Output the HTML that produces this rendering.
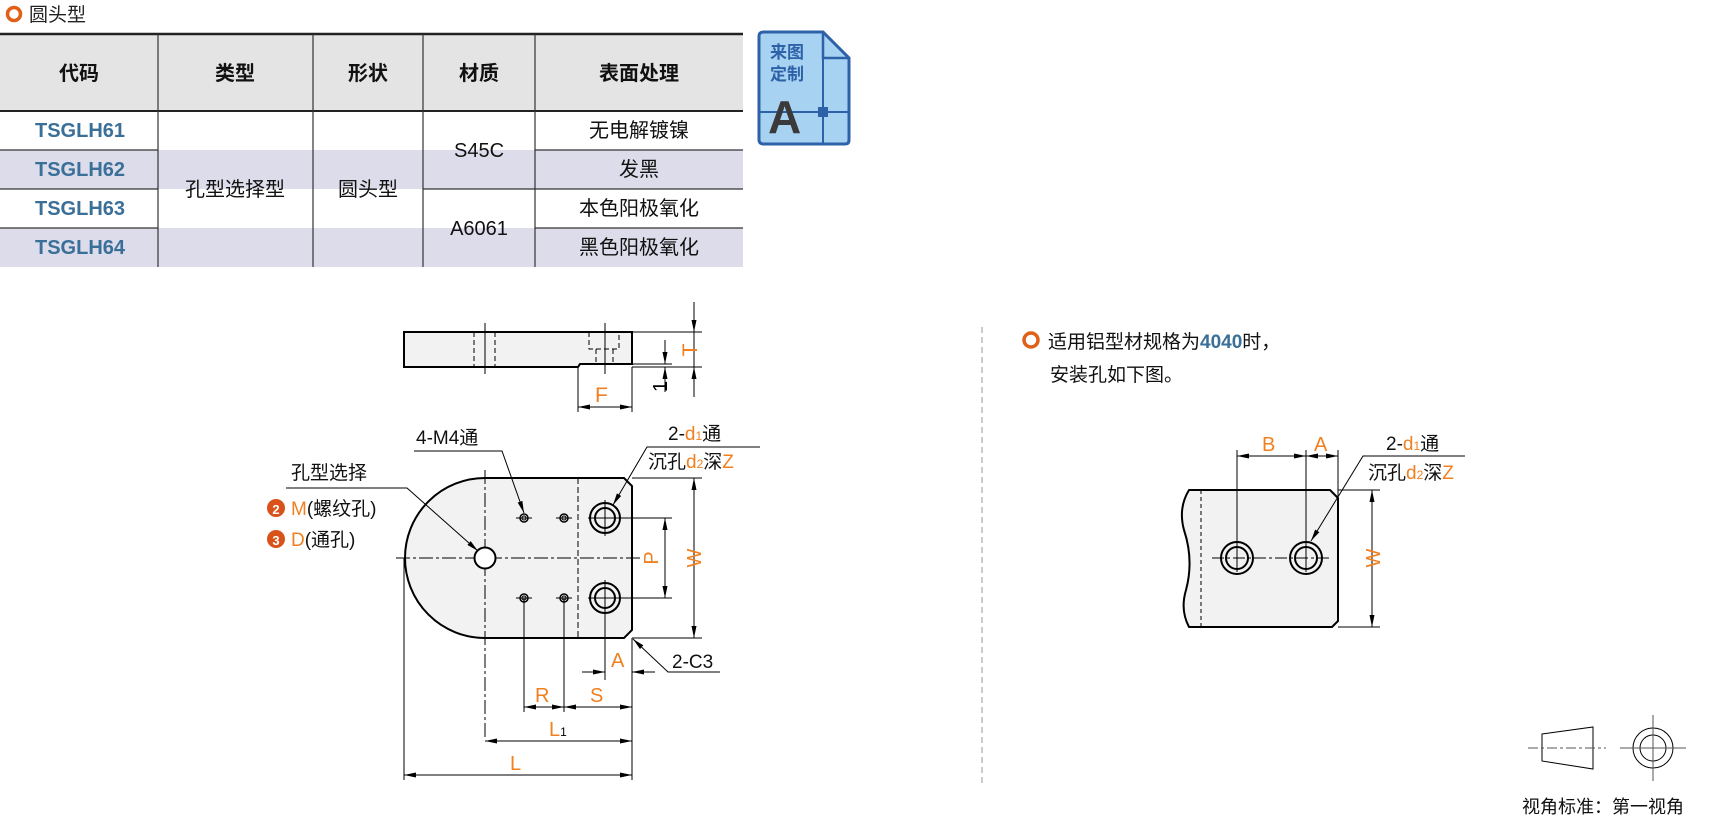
<!DOCTYPE html>
<html><head><meta charset="utf-8"><style>
body{margin:0;width:1711px;height:818px;background:#fff;position:relative;overflow:hidden;font-family:"Liberation Sans","Noto Sans CJK SC",sans-serif;}
</style></head><body>
<svg width="1711" height="818" style="position:absolute;left:0;top:0" font-family="Liberation Sans, Noto Sans CJK SC, sans-serif">
<defs>
<marker id="ar" markerWidth="12" markerHeight="6" refX="12" refY="3" orient="auto" markerUnits="userSpaceOnUse"><path d="M0,0.5 L12,3 L0,5.5z" fill="#000"/></marker>
</defs>
<circle cx="14" cy="14" r="6.5" fill="none" stroke="#e0601a" stroke-width="3.5"/>
<text x="29" y="21" font-size="19" fill="#222">圆头型</text>
<rect x="0" y="33" width="743" height="78" fill="#e4e4e4"/>
<rect x="0" y="150" width="743" height="39" fill="#dcdcea"/>
<rect x="0" y="228" width="743" height="39" fill="#dcdcea"/>
<line x1="0" y1="34" x2="743" y2="34" stroke="#222" stroke-width="2.5"/>
<line x1="0" y1="111" x2="743" y2="111" stroke="#222" stroke-width="2"/>
<g stroke="#333" stroke-width="1.2">
<line x1="0" y1="150" x2="158" y2="150"/><line x1="535" y1="150" x2="743" y2="150"/>
<line x1="0" y1="189" x2="158" y2="189"/><line x1="423" y1="189" x2="743" y2="189"/>
<line x1="0" y1="228" x2="158" y2="228"/><line x1="535" y1="228" x2="743" y2="228"/>
<line x1="158" y1="34" x2="158" y2="267"/><line x1="313" y1="34" x2="313" y2="267"/>
<line x1="423" y1="34" x2="423" y2="267"/><line x1="535" y1="34" x2="535" y2="267"/>
</g>
<g font-size="20" font-weight="bold" fill="#111" text-anchor="middle">
<text x="79" y="80">代码</text><text x="235" y="80">类型</text><text x="368" y="80">形状</text><text x="479" y="80">材质</text><text x="639" y="80">表面处理</text>
</g>
<g font-size="20" font-weight="bold" fill="#3a6f98" text-anchor="middle">
<text x="80" y="137">TSGLH61</text><text x="80" y="176">TSGLH62</text><text x="80" y="215">TSGLH63</text><text x="80" y="254">TSGLH64</text>
</g>
<g font-size="20" fill="#111" text-anchor="middle">
<text x="235" y="196">孔型选择型</text><text x="368" y="196">圆头型</text>
<text x="479" y="157">S45C</text><text x="479" y="235">A6061</text>
<text x="639" y="137">无电解镀镍</text><text x="639" y="176">发黑</text><text x="639" y="215">本色阳极氧化</text><text x="639" y="254">黑色阳极氧化</text>
</g>
<path d="M764,32 H823 L849,58 V140 Q849,144 845,144 H764 Q759,144 759,140 V36 Q759,32 764,32z" fill="#a8d2f2" stroke="#2d62a8" stroke-width="3"/>
<path d="M823,32 V58 H849" fill="none" stroke="#2d62a8" stroke-width="2.5"/>
<line x1="823" y1="58" x2="823" y2="144" stroke="#2d62a8" stroke-width="2"/>
<line x1="759" y1="112" x2="849" y2="112" stroke="#2d62a8" stroke-width="2"/>
<rect x="818" y="107" width="10" height="10" fill="#2d62a8"/>
<text x="770" y="58" font-size="17" font-weight="bold" fill="#2d62a8">来图</text>
<text x="770" y="80" font-size="17" font-weight="bold" fill="#2d62a8">定制</text>
<text x="768" y="133" font-size="46" font-weight="bold" fill="#3a3a3a">A</text>

<g stroke="#000" fill="none">
<path d="M404,332 H632 V364 H580 L578,367 H404z" fill="#f2f2f2" stroke-width="2"/>
<g stroke-width="1" stroke-dasharray="5,3"><line x1="474" y1="332" x2="474" y2="367"/><line x1="495" y1="332" x2="495" y2="367"/>
<path d="M589,332 V349 H619 V332"/><line x1="596" y1="349" x2="596" y2="364"/><line x1="613" y1="349" x2="613" y2="364"/></g>
<g stroke-width="1"><line x1="485" y1="323" x2="485" y2="374"/><line x1="605" y1="323" x2="605" y2="374"/>
<line x1="632" y1="332" x2="702" y2="332"/><line x1="632" y1="364" x2="672" y2="364"/><line x1="632" y1="367" x2="702" y2="367"/>
<line x1="578" y1="367" x2="578" y2="412"/><line x1="632" y1="367" x2="632" y2="412"/>
<line x1="605" y1="407" x2="578" y2="407" marker-end="url(#ar)"/><line x1="605" y1="407" x2="632" y2="407" marker-end="url(#ar)"/>
<line x1="694" y1="302" x2="694" y2="332" marker-end="url(#ar)"/><line x1="694" y1="397" x2="694" y2="367" marker-end="url(#ar)"/><line x1="694" y1="332" x2="694" y2="367"/>
<line x1="665" y1="340" x2="665" y2="364" marker-end="url(#ar)"/><line x1="665" y1="392" x2="665" y2="367" marker-end="url(#ar)"/>
</g></g>
<text x="595" y="402" font-size="21" fill="#f08020">F</text>
<text transform="translate(697,350) rotate(-90)" font-size="21" fill="#f08020" text-anchor="middle">T</text>
<text transform="translate(667,392) rotate(-90)" font-size="20" fill="#000">1</text>

<g stroke="#000" fill="none">
<path d="M485,478 H624 L632,486 V630 L624,638 H485 A80,80 0 0 1 485,478z" fill="#f2f2f2" stroke-width="2"/>
<line x1="578" y1="478" x2="578" y2="638" stroke-width="1" stroke-dasharray="6,3"/>
<g stroke-width="1" stroke-dasharray="14,3,3,3"><line x1="396" y1="558" x2="640" y2="558"/></g>
<line x1="485" y1="470" x2="485" y2="740" stroke-width="1" stroke-dasharray="14,3,3,3"/>
<circle cx="485" cy="558" r="10.5" fill="#fff" stroke-width="2"/>
<g stroke-width="1.5"><circle cx="524" cy="518" r="4"/><circle cx="564" cy="518" r="4"/><circle cx="524" cy="598" r="4"/><circle cx="564" cy="598" r="4"/></g>
<g stroke-width="1"><circle cx="524" cy="518" r="2"/><circle cx="564" cy="518" r="2"/><circle cx="524" cy="598" r="2"/><circle cx="564" cy="598" r="2"/>
<line x1="516" y1="518" x2="532" y2="518"/><line x1="556" y1="518" x2="572" y2="518"/><line x1="516" y1="598" x2="532" y2="598"/><line x1="556" y1="598" x2="572" y2="598"/>
<line x1="524" y1="598" x2="524" y2="712"/><line x1="564" y1="598" x2="564" y2="712"/></g>
<g stroke-width="2"><circle cx="605" cy="518" r="15"/><circle cx="605" cy="518" r="10"/><circle cx="605" cy="598" r="15"/><circle cx="605" cy="598" r="10"/></g>
<g stroke-width="1"><line x1="588" y1="518" x2="672" y2="518"/><line x1="605" y1="500" x2="605" y2="536"/>
<line x1="588" y1="598" x2="672" y2="598"/><line x1="605" y1="580" x2="605" y2="680"/>
<line x1="632" y1="478" x2="702" y2="478"/><line x1="632" y1="638" x2="702" y2="638"/>
<line x1="665" y1="538" x2="665" y2="518" marker-end="url(#ar)"/><line x1="665" y1="578" x2="665" y2="598" marker-end="url(#ar)"/><line x1="665" y1="518" x2="665" y2="598"/>
<line x1="694" y1="558" x2="694" y2="478" marker-end="url(#ar)"/><line x1="694" y1="558" x2="694" y2="638" marker-end="url(#ar)"/>
<line x1="632" y1="638" x2="632" y2="780"/><line x1="404" y1="558" x2="404" y2="780"/>
<line x1="582" y1="672" x2="605" y2="672" marker-end="url(#ar)"/><line x1="655" y1="672" x2="632" y2="672" marker-end="url(#ar)"/>
<line x1="544" y1="707" x2="524" y2="707" marker-end="url(#ar)"/><line x1="544" y1="707" x2="564" y2="707" marker-end="url(#ar)"/>
<line x1="598" y1="707" x2="564" y2="707" marker-end="url(#ar)"/><line x1="598" y1="707" x2="632" y2="707" marker-end="url(#ar)"/>
<line x1="558" y1="741" x2="485" y2="741" marker-end="url(#ar)"/><line x1="558" y1="741" x2="632" y2="741" marker-end="url(#ar)"/>
<line x1="518" y1="775" x2="404" y2="775" marker-end="url(#ar)"/><line x1="518" y1="775" x2="632" y2="775" marker-end="url(#ar)"/>
<polyline points="414,451 502,451 524,513" marker-end="url(#ar)" fill="none"/>
<polyline points="286,488 407,488 478,551" marker-end="url(#ar)" fill="none"/>
<polyline points="760,447 647,447 613,505" marker-end="url(#ar)" fill="none"/>
<polyline points="720,672 668,672 633,639" marker-end="url(#ar)" fill="none"/>
</g></g>
<g font-size="20" fill="#f08020">
<text transform="translate(658,558) rotate(-90)" text-anchor="middle">P</text>
<text transform="translate(701,558) rotate(-90)" text-anchor="middle">W</text>
<text x="611" y="667">A</text><text x="535" y="702">R</text><text x="590" y="702">S</text>
</g>
<text x="549" y="736" font-size="20" fill="#f08020">L<tspan font-size="12" fill="#000">1</tspan></text>
<text x="510" y="770" font-size="20" fill="#f08020">L</text>
<g font-size="19" fill="#111">
<text x="416" y="444">4-M4通</text>
<text x="668" y="440">2-<tspan fill="#f08020">d</tspan><tspan font-size="12" fill="#f08020">1</tspan>通</text>
<text x="648" y="468">沉孔<tspan fill="#f08020">d</tspan><tspan font-size="12" fill="#f08020">2</tspan>深<tspan fill="#f08020">Z</tspan></text>
<text x="672" y="668">2-C3</text>
<text x="291" y="479">孔型选择</text>
<text x="291" y="515"><tspan fill="#f08020">M</tspan>(螺纹孔)</text>
<text x="291" y="546"><tspan fill="#f08020">D</tspan>(通孔)</text>
</g>
<circle cx="276" cy="508" r="9" fill="#d8521a"/><text x="276" y="514" font-size="13" font-weight="bold" fill="#fff" text-anchor="middle">2</text>
<circle cx="276" cy="539" r="9" fill="#d8521a"/><text x="276" y="545" font-size="13" font-weight="bold" fill="#fff" text-anchor="middle">3</text>

<line x1="982" y1="327" x2="982" y2="783" stroke="#999" stroke-width="1" stroke-dasharray="6,4"/>

<circle cx="1031" cy="340" r="7" fill="none" stroke="#e0601a" stroke-width="3.5"/>
<text x="1048" y="348" font-size="19" fill="#111">适用铝型材规格为<tspan fill="#3a6f98" font-weight="bold">4040</tspan>时，</text>
<text x="1050" y="381" font-size="19" fill="#111">安装孔如下图。</text>
<g stroke="#000" fill="none">
<path d="M1189,490 H1330 L1338,498 V621 L1332,627 H1189 Q1180,610 1186,590 Q1194,560 1184,530 Q1178,508 1189,490z" fill="#f2f2f2" stroke-width="2" stroke-linejoin="round"/>
<line x1="1201" y1="490" x2="1201" y2="627" stroke-width="1" stroke-dasharray="4,3"/>
<line x1="1212" y1="558" x2="1330" y2="558" stroke-width="1" stroke-dasharray="12,3,3,3"/>
<g stroke-width="2"><circle cx="1237" cy="558" r="16"/><circle cx="1237" cy="558" r="11"/><circle cx="1306" cy="558" r="16"/><circle cx="1306" cy="558" r="11"/></g>
<g stroke-width="1"><line x1="1237" y1="450" x2="1237" y2="572"/><line x1="1306" y1="450" x2="1306" y2="572"/><line x1="1338" y1="450" x2="1338" y2="498"/>
<line x1="1271" y1="456" x2="1237" y2="456" marker-end="url(#ar)"/><line x1="1271" y1="456" x2="1306" y2="456" marker-end="url(#ar)"/>
<line x1="1322" y1="456" x2="1306" y2="456" marker-end="url(#ar)"/><line x1="1322" y1="456" x2="1338" y2="456" marker-end="url(#ar)"/>
<line x1="1338" y1="490" x2="1380" y2="490"/><line x1="1338" y1="627" x2="1380" y2="627"/>
<line x1="1372" y1="558" x2="1372" y2="490" marker-end="url(#ar)"/><line x1="1372" y1="558" x2="1372" y2="627" marker-end="url(#ar)"/>
<polyline points="1465,456 1363,456 1311,541" marker-end="url(#ar)"/></g>
</g>
<text x="1262" y="451" font-size="20" fill="#f08020">B</text><text x="1314" y="451" font-size="20" fill="#f08020">A</text>
<text transform="translate(1380,558) rotate(-90)" font-size="20" fill="#f08020" text-anchor="middle">W</text>
<g font-size="19" fill="#111">
<text x="1386" y="450">2-<tspan fill="#f08020">d</tspan><tspan font-size="12" fill="#f08020">1</tspan>通</text>
<text x="1368" y="479">沉孔<tspan fill="#f08020">d</tspan><tspan font-size="12" fill="#f08020">2</tspan>深<tspan fill="#f08020">Z</tspan></text>
</g>
<g stroke="#000" fill="none" stroke-width="1">
<path d="M1542,734 L1593,727 V769 L1542,761z"/>
<line x1="1528" y1="748" x2="1606" y2="748" stroke="#555" stroke-dasharray="10,3,3,3"/>
<circle cx="1653" cy="748" r="20"/><circle cx="1653" cy="748" r="13"/>
<line x1="1620" y1="748" x2="1686" y2="748" stroke="#555"/><line x1="1653" y1="715" x2="1653" y2="781" stroke="#555"/>
</g>
<text x="1522" y="813" font-size="18" fill="#111">视角标准：第一视角</text>
</svg>
</body></html>
